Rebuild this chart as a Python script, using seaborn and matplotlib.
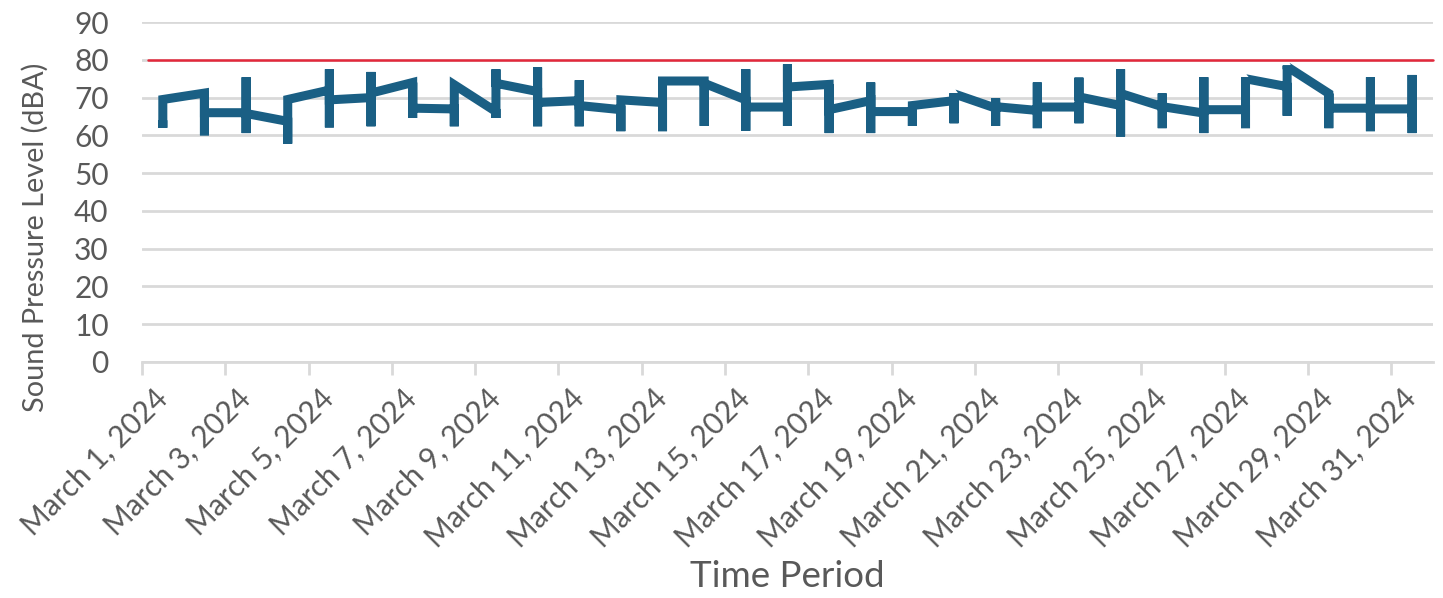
import pandas as pd
import matplotlib.pyplot as plt
import seaborn as sns

# readings per day: first, lowest, highest, last (dBA)
days = list(range(1, 32))
first = [64.0, 71.2, 66.0, 63.7, 72.0, 70.0, 74.0, 67.0, 66.3, 71.6,
         69.2, 66.8, 68.7, 74.4, 69.4, 67.5, 73.5, 69.2, 66.3, 69.2,
         67.2, 66.6, 67.5, 67.9, 67.6, 65.9, 66.8, 72.9, 71.1, 67.2, 67.0]
low = [62.0, 60.0, 60.6, 57.8, 62.1, 62.4, 64.6, 62.4, 64.6, 62.4,
       62.4, 61.1, 61.1, 62.5, 61.2, 62.5, 60.6, 60.6, 62.5, 63.2,
       62.5, 61.9, 63.2, 59.7, 61.9, 60.6, 61.9, 65.2, 61.9, 61.1, 60.6]
high = [69.5, 71.5, 75.4, 69.5, 77.5, 76.8, 74.0, 73.4, 77.5, 78.0,
        74.6, 69.4, 74.4, 74.4, 77.5, 78.8, 73.5, 74.0, 67.9, 71.2,
        69.8, 74.0, 75.3, 77.5, 71.1, 75.4, 75.4, 78.5, 71.1, 75.4, 76.0]
last = [69.5, 66.0, 65.8, 69.5, 69.4, 71.2, 67.2, 73.4, 73.8, 68.7,
        67.9, 69.4, 74.4, 73.8, 67.5, 72.8, 66.8, 66.3, 67.9, 71.0,
        67.6, 67.5, 70.2, 71.1, 67.6, 66.8, 75.0, 78.2, 67.2, 67.0, 65.0]
threshold = 80

dates = pd.date_range("2024-03-01", "2024-03-31")
tick_days = days[::2]
tick_labels = ["{} {}, {}".format(d.strftime("%B"), d.day, d.year) for d in dates[::2]]

# long table: every reading of a day sits at the same x, in order
rows = []
for i, d in enumerate(days):
    for v in (first[i], low[i], high[i], last[i]):
        rows.append({"day": d, "spl": v})
df = pd.DataFrame(rows)

sns.set_theme(style="white")
plt.rcParams["font.family"] = ["Lato", "DejaVu Sans"]

fig = plt.figure(figsize=(14.43, 5.98), dpi=100)
ax = fig.add_axes([0.0984, 0.395, 0.8946, 0.568])

grey = "#d9d9d9"
text_grey = "#595959"

ax.set_ylim(0, 90)
ax.set_xlim(0.5, 31.5)
ax.set_yticks(range(0, 91, 10))
ax.yaxis.grid(True, color=grey, linewidth=2)
ax.set_axisbelow(True)
for s in ["top", "right", "left"]:
    ax.spines[s].set_visible(False)
ax.spines["bottom"].set_color(grey)
ax.spines["bottom"].set_linewidth(2)

sns.lineplot(data=df, x="day", y="spl", sort=False, estimator=None,
             color="#1a5f84", linewidth=6.5, ax=ax,
             solid_capstyle="butt", solid_joinstyle="miter")

ax.axhline(threshold, xmin=0.005, xmax=1.0, color="#e3283b", linewidth=1.8,
           clip_on=False, zorder=3)

ax.set_xticks(tick_days)
ax.set_xticklabels(tick_labels, rotation=45, ha="right", va="center",
                   rotation_mode="anchor")
ax.set_xticks([0.5 + 2 * k for k in range(16)], minor=True)
ax.tick_params(axis="x", which="major", length=0, pad=23, labelsize=21.5,
               labelcolor=text_grey)
ax.tick_params(axis="x", which="minor", length=9, width=2, color=grey,
               bottom=True)
ax.tick_params(axis="y", length=0, pad=24, labelsize=21.5, labelcolor=text_grey)

ax.set_xlabel("Time Period", fontsize=26.5, color=text_grey)
ax.set_ylabel("Sound Pressure Level (dBA)", fontsize=20.8, color=text_grey)
ax.xaxis.set_label_coords(0.5, -0.585)
ax.yaxis.set_label_coords(-0.072, 0.365)

fig.savefig("out.png", dpi=100)
